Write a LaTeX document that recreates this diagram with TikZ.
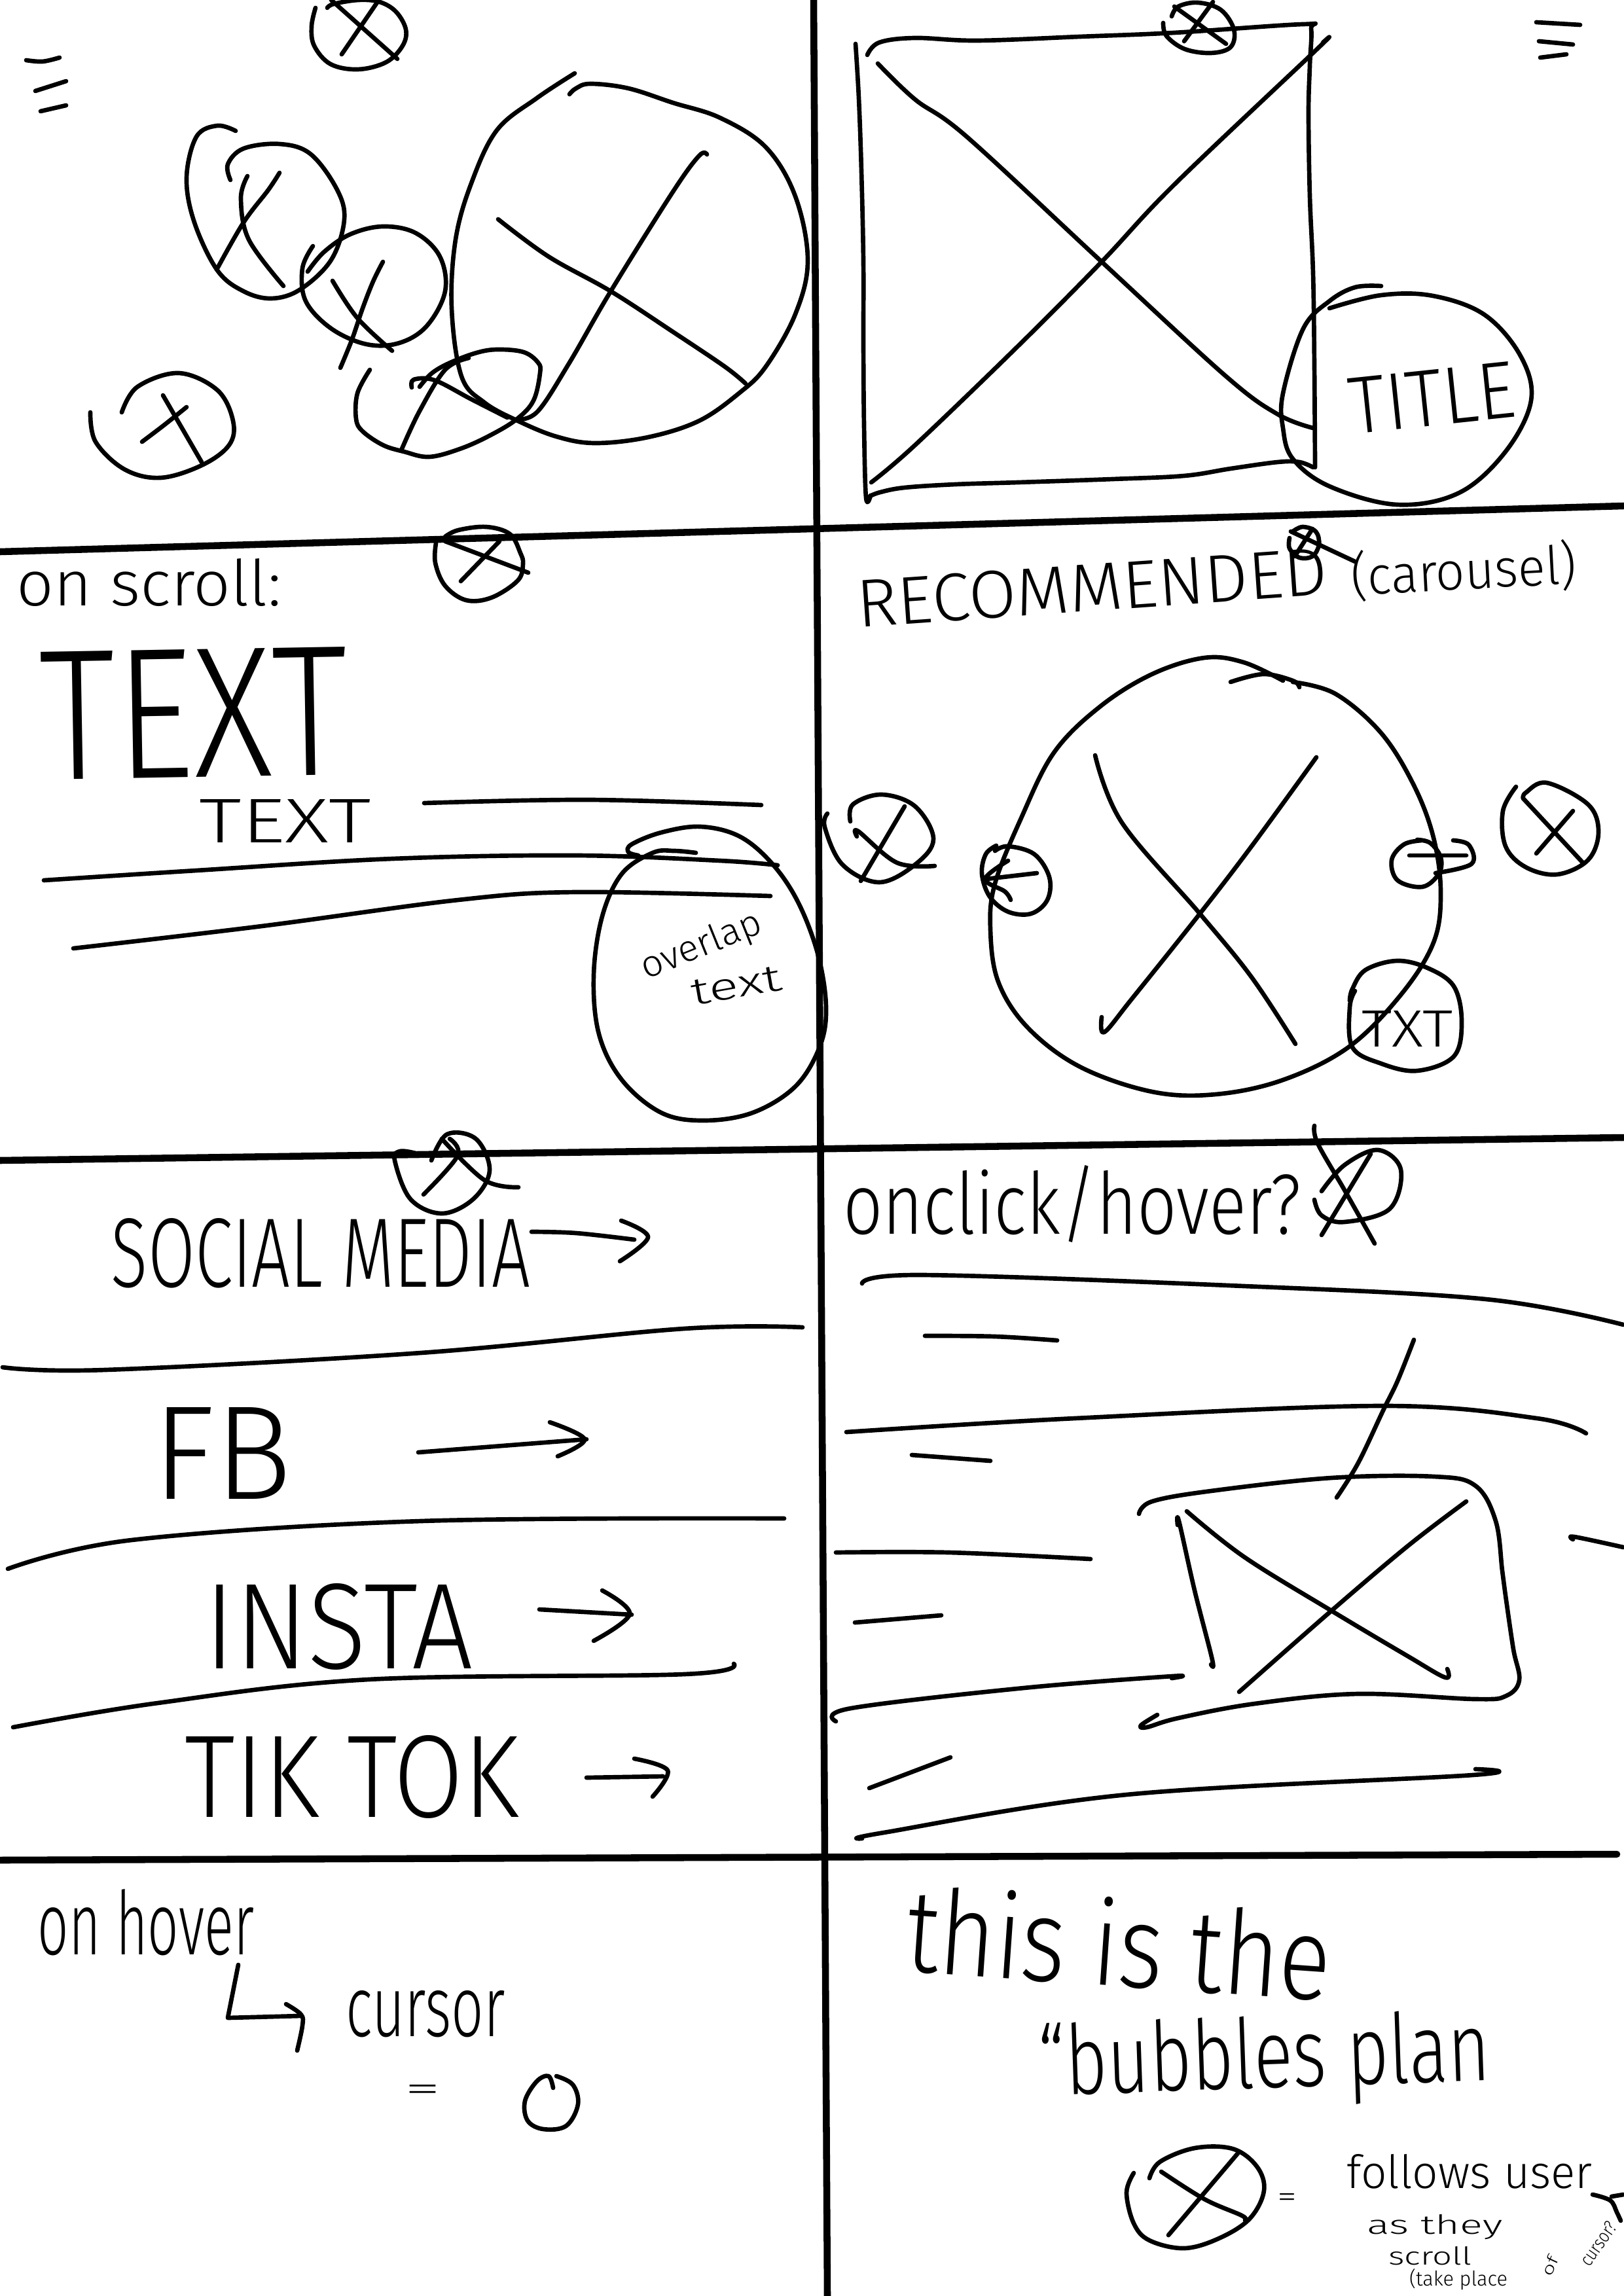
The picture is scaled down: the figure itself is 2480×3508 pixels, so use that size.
\documentclass[tikz,border=0pt]{standalone}
\usepackage{fontspec}
\setmainfont{Fira Sans}[UprightFont={* Light}]
\usepackage{graphicx}
\newlength\px
\setlength\px{0.1mm}
\newcommand\hw[3]{\resizebox{#1\px}{#2\px}{#3}}
\begin{document}
\begin{tikzpicture}[x=0.1mm,y=-0.1mm,
  pen/.style={line width=1.9pt,line cap=round,line join=round},
  gridline/.style={line width=3pt,line cap=round},
  hand/.style={inner sep=0pt,outer sep=0pt},
  sm/.style={smooth,tension=0.6}]
\useasboundingbox (0,0) rectangle (2480,3508);
\fill[white] (0,0) rectangle (2480,3508);

% ---------------- grid
\draw[gridline] (1243,0) -- (1264,3508);
\draw[gridline] (0,843) -- (2480,773);
\draw[gridline] (0,1773) -- (2480,1738);
\draw[gridline] (0,2842) -- (2470,2833);

% ---------------- cell 1 (top left)
\draw[pen] plot[sm] coordinates {(40,92) (65,94) (91,88)};
\draw[pen] (54,139) -- (101,124);
\draw[pen] (62,170) -- (101,161);
% top bubble
\draw[pen] plot[sm] coordinates {(482,12) (476,40) (480,70) (505,98) (547,106) (590,95) (615,70) (620,45) (605,18) (580,3) (548,0) (510,6) (500,12)};
\draw[pen] (506,0) -- (607,90);
\draw[pen] (576,4) -- (522,83);
% bubble A
\draw[pen] plot[sm] coordinates {(360,200) (332,192) (300,209) (285,272) (297,340) (332,413) (372,445) (415,456) (459,442) (506,397) (526,335) (514,288) (474,235) (427,220) (372,227) (348,251) (352,275)};
\draw[pen] plot[sm] coordinates {(427,264) (410,290) (372,340) (331,412)};
\draw[pen] plot[sm] coordinates {(378,269) (368,303) (380,366) (433,437)};
% bubble B
\draw[pen] plot[sm] coordinates {(478,376) (462,410) (467,460) (506,502) (560,526) (610,524) (652,498) (680,445) (672,392) (635,356) (585,346) (535,358) (495,385) (470,415)};
\draw[pen] plot[sm] coordinates {(585,400) (570,430) (554,471) (538,518) (520,562)};
\draw[pen] plot[sm] coordinates {(508,429) (546,486) (599,536)};
% big bubble
\draw[pen] plot[sm] coordinates {(878,112) (820,150) (759,199) (720,280) (696,366) (690,471) (705,575) (740,615) (791,643) (850,667) (909,677) (990,668) (1068,643) (1130,600) (1170,560) (1215,480) (1234,398) (1215,300) (1170,225) (1100,180) (1028,157) (960,135) (902,128) (880,135) (870,144)};
\draw[pen] plot[sm] coordinates {(1080,236) (1068,238) (1028,293) (933,445) (870,554) (822,628) (791,641)};
\draw[pen] plot[sm] coordinates {(761,335) (838,392) (933,445) (1028,507) (1107,560) (1139,586)};
% bubble D
\draw[pen] plot[sm] coordinates {(565,565) (546,601) (544,640) (554,659) (585,680) (617,690) (656,698) (705,685) (751,664) (790,640) (815,612) (825,570) (822,554) (800,538) (760,534) (728,539) (688,554) (660,570) (641,591)};
\draw[pen] plot[sm] coordinates {(613,688) (641,628) (680,565) (716,547)};
\draw[pen] plot[sm] coordinates {(629,592) (632,580) (664,581) (720,610) (775,638)};
% bubble E
\draw[pen] plot[sm] coordinates {(186,630) (210,591) (273,570) (332,596) (356,643) (350,680) (308,711) (245,730) (190,717) (146,675) (138,630)};
\draw[pen] (249,604) -- (308,706);
\draw[pen] plot[sm] coordinates {(285,622) (250,650) (217,675)};

% ---------------- cell 2 (top right)
\draw[pen] plot[sm] coordinates {(1325,84) (1343,65) (1398,58) (1493,62) (1650,56) (1794,50) (1991,37) (2003,44) (2001,100) (1999,173) (2001,300) (2006,418) (2008,560) (2009,714)};
\draw[pen] plot[sm] coordinates {(2006,714) (1985,706) (1952,706) (1880,716) (1809,727) (1700,732) (1556,737) (1460,740) (1382,745) (1345,752) (1329,758)};
\draw[pen] plot[sm] coordinates {(1307,67) (1312,150) (1316,262) (1319,400) (1319,523) (1320,650) (1323,760) (1330,757)};
\draw[pen] plot[sm] coordinates {(1341,97) (1398,152) (1477,209) (1683,400) (1873,575) (1952,633) (2006,654)};
\draw[pen] plot[sm] coordinates {(2021,65) (2011,76) (1794,282) (1683,400) (1556,528) (1398,680) (1331,737)};
% small bubble
\draw[pen] plot[sm] coordinates {(1790,25) (1800,10) (1830,4) (1865,15) (1885,45) (1880,72) (1850,81) (1810,75) (1782,55) (1777,35)};
\draw[pen] (1794,10) -- (1873,67);
\draw[pen] (1853,3) -- (1809,63);
% menu marks
\draw[pen] (2347,34) -- (2414,38);
\draw[pen] (2351,63) -- (2403,68);
\draw[pen] (2353,88) -- (2393,83);
% TITLE bubble
\draw[pen] plot[sm] coordinates {(2110,437) (2070,439) (2031,460) (1991,502) (1960,601) (1960,654) (1975,701) (2031,743) (2134,771) (2229,753) (2300,690) (2339,612) (2323,544) (2268,481) (2189,452) (2110,451) (2031,471)};
\node[hand,rotate=6] (title) at (2188,608) {\hw{255}{85}{TITLE}};

% ---------------- cell 3 (middle left)
\node[hand] (onscroll) at (228,890) {\hw{405}{72}{on scroll:}};
\draw[pen] plot[sm] coordinates {(680,820) (700,810) (743,805) (779,816) (795,845) (799,862) (791,887) (751,913) (712,917) (680,895) (665,860) (666,830)};
\draw[pen] (680,827) -- (807,875);
\draw[pen] (763,827) -- (704,888);
\node[hand,rotate=1] (bigtext) at (296,1090) {\hw{470}{195}{TEXT}};
\node[hand] (smalltext) at (436,1254) {\hw{262}{66}{TEXT}};
\draw[pen] plot[sm] coordinates {(648,1227) (900,1222) (1163,1230)};
\draw[pen] plot[sm] coordinates {(67,1345) (300,1330) (600,1312) (880,1307) (1100,1315) (1188,1322)};
\draw[pen] plot[sm] coordinates {(112,1449) (400,1415) (700,1375) (880,1363) (1177,1369)};
\draw[pen] plot[sm] coordinates {(1063,1303) (1030,1300) (997,1303) (950,1335) (920,1400) (907,1490) (915,1580) (950,1650) (1010,1700) (1075,1712) (1150,1700) (1215,1660) (1252,1600) (1262,1540) (1250,1460) (1220,1380) (1180,1320) (1130,1278) (1070,1263) (1010,1272) (965,1290) (960,1302) (975,1307)};
\node[hand,rotate=22] (overlap) at (1072,1446) {\hw{195}{42}{overlap}};
\node[hand,rotate=10] (overtext) at (1125,1506) {\hw{140}{38}{text}};

% ---------------- cell 4 (middle right)
\node[hand,rotate=4] (recom) at (1668,898) {\hw{720}{72}{RECOMMENDED}};
\node[hand,rotate=3] (carousel) at (2236,872) {\hw{345}{68}{(carousel)}};
\draw[pen] plot[sm] coordinates {(1975,812) (1990,805) (2010,812) (2015,832) (2005,850) (1985,852) (1970,838) (1970,822)};
\draw[pen] (1972,812) -- (2070,858);
\draw[pen] (2005,808) -- (1978,850);
% big carousel bubble
\draw[pen] plot[sm] coordinates {(1960,1040) (1900,1012) (1840,1005) (1760,1030) (1680,1080) (1610,1150) (1560,1250) (1520,1350) (1513,1420) (1525,1500) (1570,1570) (1650,1630) (1760,1668) (1857,1672) (1960,1650) (2060,1600) (2140,1520) (2190,1440) (2201,1364) (2190,1280) (2160,1200) (2110,1120) (2040,1060) (1975,1042)};
\draw[pen] plot[sm] coordinates {(1880,1042) (1930,1030) (1975,1040) (1985,1050)};
\draw[pen] plot[sm] coordinates {(1673,1154) (1714,1257) (1833,1396) (1912,1493) (1979,1595)};
\draw[pen] plot[sm] coordinates {(2011,1157) (1912,1293) (1833,1396) (1730,1525) (1687,1577) (1683,1554)};
% left bubble
\draw[pen] plot[sm] coordinates {(1299,1255) (1303,1229) (1347,1214) (1398,1232) (1426,1282) (1398,1321) (1343,1348) (1287,1321) (1260,1264) (1264,1243)};
\draw[pen] (1382,1232) -- (1315,1346);
\draw[pen] plot[sm] coordinates {(1309,1278) (1311,1270) (1370,1318) (1428,1323)};
% left arrow button
\draw[pen] plot[sm] coordinates {(1520,1300) (1540,1293) (1580,1305) (1603,1340) (1600,1375) (1575,1396) (1540,1393) (1512,1370) (1500,1335) (1506,1305) (1522,1292)};
\draw[pen] (1584,1334) -- (1507,1343);
\draw[pen] plot[sm] coordinates {(1540,1315) (1505,1343) (1535,1362) (1544,1375)};
% right arrow button
\draw[pen] plot[sm] coordinates {(2173,1284) (2145,1290) (2126,1314) (2135,1345) (2173,1355) (2198,1335) (2201,1310) (2185,1288) (2165,1283)};
\draw[pen] (2153,1307) -- (2240,1307);
\draw[pen] plot[sm] coordinates {(2220,1284) (2244,1291) (2248,1320) (2193,1334)};
% right bubble
\draw[pen] plot[sm] coordinates {(2316,1202) (2296,1239) (2300,1293) (2331,1325) (2379,1336) (2426,1314) (2442,1271) (2426,1229) (2363,1196) (2331,1211) (2327,1220)};
\draw[pen] (2327,1220) -- (2418,1318);
\draw[pen] (2403,1239) -- (2347,1304);
% TXT bubble
\draw[pen] plot[sm] coordinates {(2070,1514) (2062,1539) (2066,1600) (2110,1625) (2165,1636) (2221,1614) (2233,1561) (2221,1507) (2181,1479) (2134,1468) (2086,1482) (2066,1511) (2062,1529)};
\node[hand] (txt) at (2150,1572) {\hw{140}{55}{TXT}};

% ---------------- cell 5 (lower left)
\draw[pen] plot[sm] coordinates {(659,1773) (683,1733) (727,1740) (748,1788) (723,1832) (675,1854) (627,1832) (603,1773) (611,1759) (635,1762)};
\draw[pen] plot[sm] coordinates {(647,1825) (699,1766) (687,1740)};
\draw[pen] plot[sm] coordinates {(675,1740) (740,1803) (792,1814)};
\node[hand] (social) at (490,1915) {\hw{640}{105}{SOCIAL MEDIA}};
\draw[pen] plot[sm] coordinates {(812,1882) (880,1884) (969,1894)};
\draw[pen] plot[sm] coordinates {(949,1865) (990,1890) (947,1927)};
\draw[pen] plot[sm] coordinates {(4,2089) (161,2093) (643,2067) (1045,2030) (1226,2028)};
\node[hand] (fb) at (340,2220) {\hw{212}{140}{FB}};
\draw[pen] (639,2219) -- (896,2199);
\draw[pen] plot[sm] coordinates {(840,2173) (893,2199) (852,2225)};
\draw[pen] plot[sm] coordinates {(12,2397) (201,2353) (643,2324) (1198,2320)};
\node[hand] (insta) at (518,2485) {\hw{410}{130}{INSTA}};
\draw[pen] (824,2459) -- (965,2467);
\draw[pen] plot[sm] coordinates {(920,2430) (962,2466) (907,2507)};
\draw[pen] plot[sm] coordinates {(20,2639) (241,2602) (563,2566) (1045,2558) (1121,2542)};
\node[hand] (tiktok) at (538,2715) {\hw{510}{125}{TIK TOK}};
\draw[pen] (896,2716) -- (1013,2714);
\draw[pen] plot[sm] coordinates {(969,2687) (1020,2705) (997,2745)};

% ---------------- cell 6 (lower right)
\node[hand] (onclick) at (1638,1840) {\hw{700}{105}{onclick/hover?}};
\draw[pen] plot[sm] coordinates {(2008,1833) (2019,1857) (2054,1867) (2123,1847) (2140,1787) (2105,1757) (2054,1780) (2019,1820)};
\draw[pen] plot[sm] coordinates {(2008,1720) (2013,1747) (2055,1820) (2100,1900)};
\draw[pen] (2094,1763) -- (2019,1887);
\draw[pen] plot[sm] coordinates {(1317,1961) (1407,1948) (1877,1964) (2270,1985) (2480,2024)};
\draw[pen] plot[sm] coordinates {(1413,2041) (1520,2042) (1615,2048)};
\draw[pen] plot[sm] coordinates {(1293,2188) (1642,2167) (2113,2148) (2348,2167) (2423,2190)};
\draw[pen] (1393,2223) -- (1513,2232);
\draw[pen] plot[sm] coordinates {(2160,2047) (2135,2110) (2113,2155) (2075,2235) (2042,2288)};
\draw[pen] plot[sm] coordinates {(1740,2313) (1760,2294) (1850,2278) (2034,2258) (2191,2256) (2254,2270) (2285,2324) (2295,2400) (2301,2445) (2312,2520) (2321,2567) (2301,2591) (2254,2596) (2074,2588) (1917,2603) (1800,2625) (1752,2639) (1743,2636) (1768,2620)};
\draw[pen] plot[sm] coordinates {(1799,2330) (1801,2324) (1825,2430) (1852,2536) (1850,2543)};
\draw[pen] plot[sm] coordinates {(1813,2309) (1901,2379) (2034,2461) (2150,2530) (2208,2563) (2211,2550)};
\draw[pen] plot[sm] coordinates {(2240,2294) (2152,2361) (2034,2461) (1893,2585)};
\draw[pen] plot[sm] coordinates {(1277,2372) (1450,2372) (1666,2382)};
\draw[pen] plot[sm] coordinates {(2403,2352) (2405,2348) (2480,2364)};
\draw[pen] (1306,2479) -- (1438,2468);
\draw[pen] plot[sm] coordinates {(1277,2630) (1300,2610) (1564,2579) (1791,2561) (1790,2564)};
\draw[pen] (1328,2732) -- (1452,2685);
\draw[pen] plot[sm] coordinates {(1317,2809) (1350,2800) (1721,2742) (2250,2712) (2254,2703)};

% ---------------- cell 7 (bottom left)
\node[hand] (onhover) at (223,2937) {\hw{330}{100}{on hover}};
\draw[pen] (364,3002) -- (348,3083) -- (459,3080);
\draw[pen] plot[sm] coordinates {(437,3062) (460,3078) (462,3095) (454,3133)};
\node[hand] (cursor) at (650,3077) {\hw{243}{70}{cursor}};
\node[hand] (eq1) at (646,3198) {\hw{55}{25}{=}};
\draw[pen] plot[sm] coordinates {(845,3190) (838,3172) (820,3180) (802,3210) (806,3240) (830,3253) (865,3248) (883,3215) (875,3185) (850,3172)};

% ---------------- cell 8 (bottom right)
\node[hand,rotate=-4] (thisis) at (1710,2968) {\hw{650}{135}{this is the}};
\node[hand,rotate=2] (bubbles) at (1932,3150) {\hw{690}{110}{“bubbles plan}};
\draw[pen] plot[sm] coordinates {(1756,3328) (1772,3303) (1825,3282) (1883,3283) (1920,3310) (1931,3347) (1909,3390) (1862,3420) (1809,3435) (1756,3423) (1732,3397) (1721,3350) (1732,3320)};
\draw[pen] plot[sm] coordinates {(1774,3318) (1840,3360) (1897,3385) (1902,3392)};
\draw[pen] (1891,3290) -- (1785,3415);
\node[hand] (eq2) at (1966,3361) {\hw{30}{20}{=}};
\node[hand] (follows) at (2245,3318) {\hw{375}{52}{follows user}};
\node[hand] (asthey) at (2192,3403) {\hw{207}{30}{as they}};
\node[hand] (scroll) at (2185,3447) {\hw{127}{28}{scroll}};
\node[hand] (takeplace) at (2228,3483) {\hw{150}{26}{(take place}};
\node[hand,rotate=65] (of) at (2368,3462) {\hw{30}{18}{of}};
\node[hand,rotate=55] (cursorq) at (2442,3428) {\hw{76}{20}{cursor?}};
\draw[pen] plot[sm] coordinates {(2433,3353) (2460,3362) (2470,3380) (2476,3393)};
\draw[pen] (2462,3356) -- (2480,3353);
\end{tikzpicture}
\end{document}
